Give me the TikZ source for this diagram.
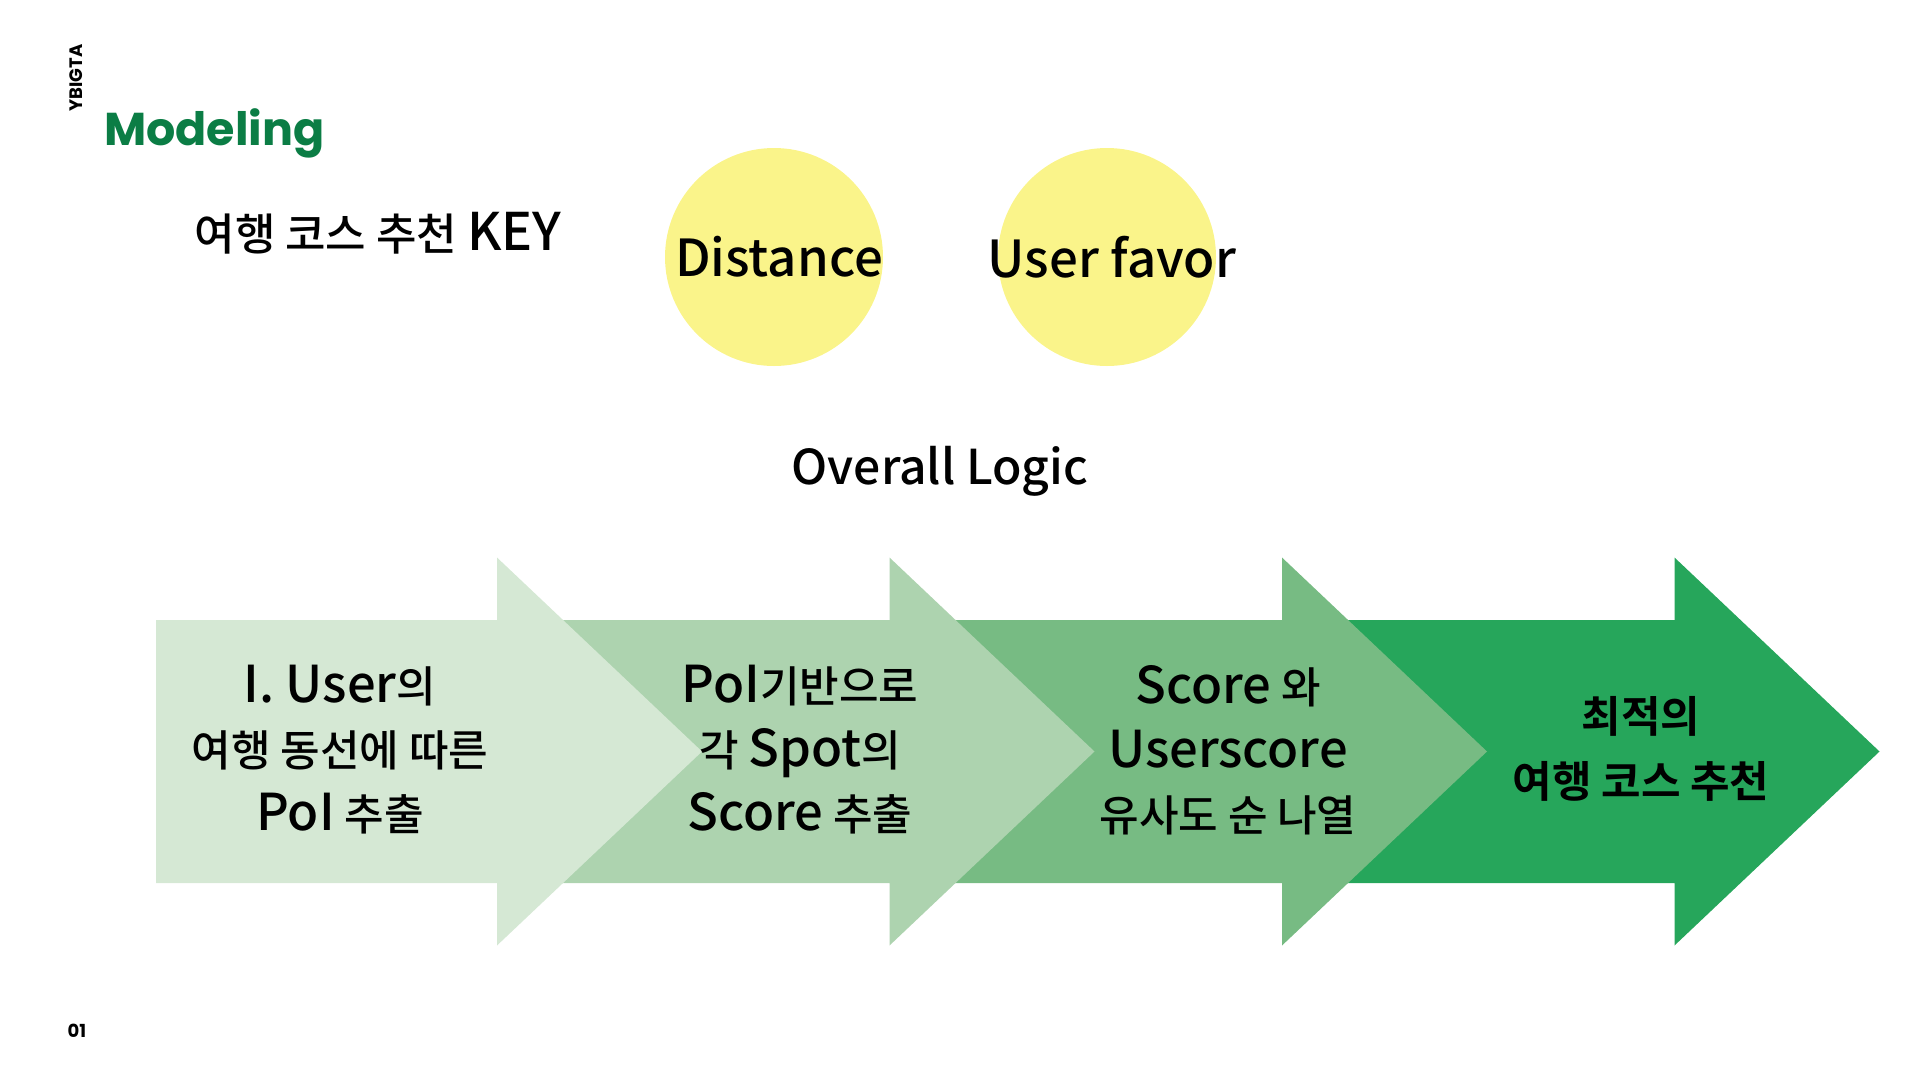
\documentclass[tikz,border=0pt]{standalone}
\usepackage{fontspec}
\setmainfont{Noto Sans CJK KR}[UprightFont=* Medium, BoldFont=* Bold]
\newfontfamily\latinfont{Noto Sans CJK KR}[Scale=1.18, UprightFont=* Medium]
\newfontfamily\headfont{Poppins}
\newcommand\lat[1]{{\latinfont #1}}
\usepackage{tikz}
\usetikzlibrary{positioning,calc}
\usepackage{xcolor}
\definecolor{stage1}{HTML}{D5E8D4}
\definecolor{stage2}{HTML}{ADD3AF}
\definecolor{stage3}{HTML}{77BB83}
\definecolor{stage4}{HTML}{26A65B}
\definecolor{keyfill}{HTML}{FAF48A}
\definecolor{brand}{HTML}{0B7D45}

\tikzset{
  stagearrow/.pic={
    \path[pic actions] (0,-131.5) -- (341,-131.5) -- (341,-194) -- (546,0)
      -- (341,194) -- (341,131.5) -- (0,131.5) -- cycle;
  }
}

\begin{document}
\begin{tikzpicture}[
  x=1pt, y=-1pt,
  every node/.style={inner sep=0pt, text=black},
  keydot/.style={circle, fill=keyfill, minimum size=218pt},
  keytext/.style={font=\fontsize{51}{60}\selectfont},
  steptext/.style={align=center, font=\fontsize{43}{64}\selectfont},
  lasttext/.style={align=center, font=\fontsize{43}{65}\selectfont\bfseries},
  tag/.style={font=\headfont\bfseries\fontsize{18}{20}\selectfont}
]
  \useasboundingbox (0,0) rectangle (1920,1080);

  % Header
  \node[tag, rotate=90] (ybigta) at (76,78) {YBIGTA};
  \node[font=\headfont\bfseries\fontsize{46}{54}\selectfont, text=brand, anchor=west]
    (title) at (104,133) {Modeling};
  \node[tag] (page) at (77,1031) {01};

  % Key of the recommendation
  \node[font=\fontsize{44}{50}\selectfont] (key) at (378,233) {여행 코스 추천 \lat{KEY}};
  \node[keydot] (dist) at (774,257) {};
  \node[keydot] (favor) at (1107,257) {};
  \node[keytext] (distlbl) at ($(dist)+(5,0)$) {Distance};
  \node[keytext] (favorlbl) at ($(favor)+(5,0)$) {User favor};

  % Overall logic
  \node[font=\fontsize{48}{60}\selectfont] (logic) at (940,471) {Overall Logic};

  \pic[fill=stage4] (s4) at (1333.5,751.5) {stagearrow};
  \pic[fill=stage3] (s3) at (941,751.5) {stagearrow};
  \pic[fill=stage2] (s2) at (548.5,751.5) {stagearrow};
  \pic[fill=stage1] (s1) at (156,751.5) {stagearrow};

  \node[steptext] (step1) at (340,750)
    {\lat{I. User}의\\여행 동선에 따른\\\lat{PoI} 추출};
  \node[steptext] (step2) at (800,750)
    {\lat{PoI}기반으로\\각 \lat{Spot}의\\\lat{Score} 추출};
  \node[steptext] (step3) at (1228,750)
    {\lat{Score} 와\\\lat{Userscore}\\유사도 순 나열};
  \node[lasttext] (step4) at (1641,749) {최적의\\여행 코스 추천};

\end{tikzpicture}
\end{document}
